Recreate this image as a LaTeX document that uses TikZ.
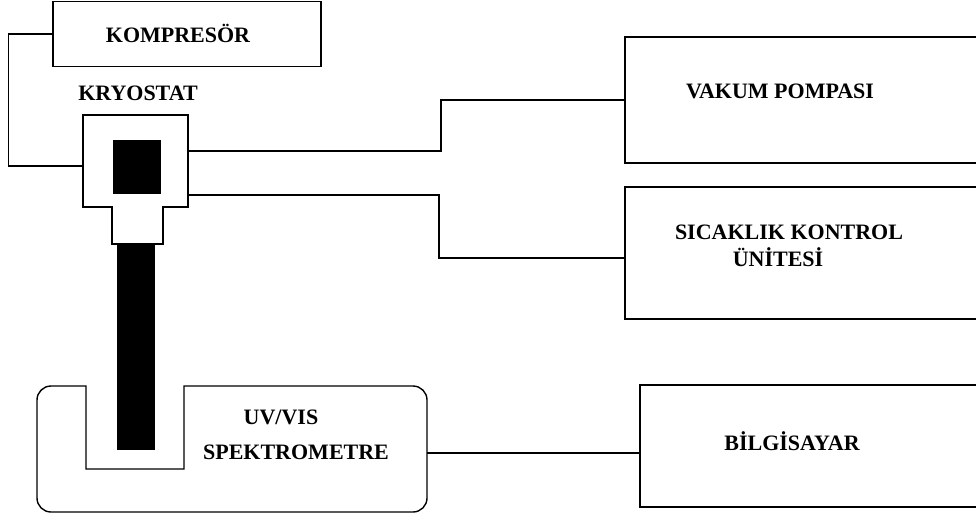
\documentclass[tikz,border=0pt]{standalone}
\usepackage{fontspec}
\setmainfont{Liberation Serif}
\usetikzlibrary{positioning}
\begin{document}
\begin{tikzpicture}[x=1pt,y=-1pt,line width=1.4pt,
	unitbox/.style={draw,minimum width=#1,inner sep=0pt},
	lbl/.style={font=\fontsize{22}{26}\selectfont\bfseries,inner sep=0pt},
	blackfill/.style={fill=black,draw=none,inner sep=0pt}]
	\useasboundingbox (0,0) rectangle (976,517);
	%\draw[help lines] (0,0) grid[step=50] (976,517);
	% units
	\node[unitbox=268pt,minimum height=65pt] (comp) at (187,34) {};
	\node[unitbox=355pt,minimum height=126pt] (vak) at (802.5,100) {};
	\node[unitbox=355pt,minimum height=132pt] (sic) at (802.5,253) {};
	\node[unitbox=340pt,minimum height=122pt] (bilg) at (810,446) {};
	% kryostat
	\coordinate (kryoL) at (83,166);
	\coordinate (kryoR1) at (188,151);
	\coordinate (kryoR2) at (188,195);
	\draw (83,115) -- (188,115) -- (188,207) -- (163,207) -- (163,244) -- (112,244) -- (112,207) -- (83,207) -- cycle;
	\node[blackfill,minimum width=48pt,minimum height=54pt] (cell) at (137,167) {};
	\node[blackfill,minimum width=38pt,minimum height=206pt] (rod) at (136,347) {};
	% spektrometre
	\draw (86,386) -- (86,469) -- (184,469) -- (184,386) [rounded corners=14pt] -- (427,386) -- (427,512) -- (37,512) -- (37,386) [sharp corners] -- cycle;
	\coordinate (specE) at (427,453);
	% texts
	\node[lbl] (tcomp) at (178,33) {KOMPRESÖR};
	\node[lbl] (tkryo) at (138,93) {KRYOSTAT};
	\node[lbl] (tvak) at (780,91) {VAKUM POMPASI};
	\node[lbl] (tsic) at (789,232) {SICAKLIK KONTROL};
	\node[lbl] (tsic2) at (778,257) {ÜNİTESİ};
	\node[lbl] (tuv) at (281,417) {UV/VIS};
	\node[lbl] (tspec) at (296,452) {SPEKTROMETRE};
	\node[lbl] (tbilg) at (792,441) {BİLGİSAYAR};
	% wires
	\draw (comp.west) -- ++(-44,0) |- (kryoL);
	\draw (kryoR1) -- ++(253,0) |- (vak.west);
	\draw (kryoR2) -- ++(251,0) |- ([yshift=-5pt]sic.west);
	\draw (specE) -- (bilg.west |- specE);
\end{tikzpicture}
\end{document}
